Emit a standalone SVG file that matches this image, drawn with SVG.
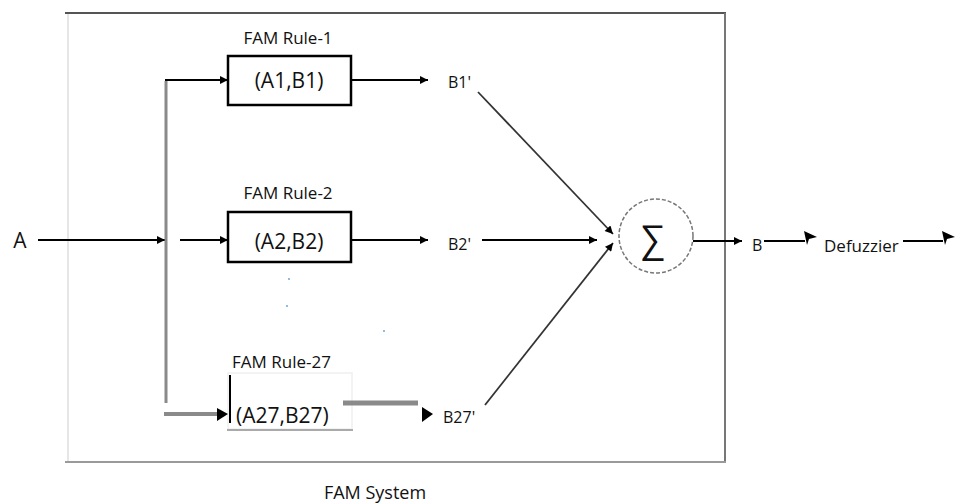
<svg xmlns="http://www.w3.org/2000/svg" width="965" height="504" viewBox="0 0 965 504">
<defs>
<marker id="arr" markerUnits="userSpaceOnUse" markerWidth="9" markerHeight="8" viewBox="0 0 10 10" refX="10" refY="5" orient="auto">
<path d="M0,0 L10,5 L0,10 z" fill="#000"/>
</marker>
</defs>
<style>
text{font-family:"Open Sans","Liberation Sans",sans-serif;fill:#111}
.lbl{font-size:17px}
.box{fill:none;stroke:#000;stroke-width:2.5}
.ln{stroke:#000;stroke-width:2;fill:none}
.diag{stroke:#333;stroke-width:1.8;fill:none}
.gray{stroke:#8a8a8a;fill:none}
</style>
<rect width="965" height="504" fill="#fff"/>

<g id="frame">
<line x1="68" y1="13" x2="68" y2="462" stroke="#e6e6e6" stroke-width="2"/>
<line x1="65" y1="13" x2="726" y2="13" stroke="#555" stroke-width="2"/>
<line x1="725" y1="13" x2="725" y2="463" stroke="#777" stroke-width="2"/>
<line x1="65" y1="462" x2="726" y2="462" stroke="#9a9a9a" stroke-width="2"/>
<text x="375" y="499" font-size="18" text-anchor="middle">FAM System</text>
</g>

<g id="input">
<text x="20" y="248" font-size="21" text-anchor="middle">A</text>
</g>

<g id="rule1">
<text class="lbl" x="288" y="44" text-anchor="middle">FAM Rule-1</text>
<rect class="box" x="228" y="56" width="123" height="49"/>
<text x="289" y="88" font-size="21" text-anchor="middle">(A1,B1)</text>
</g>

<g id="rule2">
<text class="lbl" x="288" y="199" text-anchor="middle">FAM Rule-2</text>
<rect class="box" x="228" y="212" width="123" height="50"/>
<text x="289" y="249" font-size="21" text-anchor="middle">(A2,B2)</text>
</g>

<g id="dots" fill="#5b9bd5">
<circle cx="289" cy="279" r="0.9"/>
<circle cx="287" cy="306" r="0.9"/>
<circle cx="384" cy="331" r="0.9"/>
</g>

<g id="rule27">
<text class="lbl" x="232" y="368">FAM Rule-27</text>
<rect x="228" y="373" width="124" height="56" fill="none" stroke="#efefef" stroke-width="1.5"/>
<line x1="227" y1="430" x2="353" y2="430" stroke="#aaa" stroke-width="2"/>
<line x1="230" y1="375" x2="230" y2="423" stroke="#000" stroke-width="2"/>
<text x="236" y="423" font-size="21">(A27,B27)</text>
</g>

<g id="b1out"><text x="448" y="88" font-size="16">B1'</text></g>
<g id="b2out"><text x="448" y="250" font-size="16">B2'</text></g>
<g id="b27out"><text x="443" y="423" font-size="16">B27'</text></g>

<g id="sum">
<circle cx="656" cy="236" r="37" fill="none" stroke="#777" stroke-width="1.5" stroke-dasharray="4,2"/>
<text x="653" y="252" font-size="37" text-anchor="middle" font-family="DejaVu Sans, sans-serif">∑</text>
</g>

<g id="bout"><text x="752" y="251" font-size="16">B</text></g>
<g id="defuzzier"><text x="824" y="252" font-size="17">Defuzzier</text></g>

<g id="connectors">
<line class="ln" x1="38" y1="240" x2="165" y2="240" marker-end="url(#arr)"/>
<line class="gray" x1="166" y1="81" x2="166" y2="403" stroke-width="3" stroke="#9a9a9a"/>
<line class="ln" x1="165" y1="80" x2="228" y2="80" marker-end="url(#arr)"/>
<line class="ln" x1="180" y1="240" x2="228" y2="240" marker-end="url(#arr)"/>
<line class="gray" x1="164" y1="414" x2="220" y2="414" stroke-width="4"/>
<path d="M217,408 L228,414 L217,421 z" fill="#000"/>
<line class="ln" x1="351" y1="80" x2="428" y2="80" marker-end="url(#arr)"/>
<line class="ln" x1="351" y1="240" x2="428" y2="240" marker-end="url(#arr)"/>
<line class="gray" x1="343" y1="403" x2="418" y2="403" stroke-width="5"/>
<path d="M422,407 L433,414 L422,422 z" fill="#000"/>
<line class="ln" x1="482" y1="240" x2="597" y2="240" marker-end="url(#arr)"/>
<line class="diag" x1="478" y1="92" x2="613" y2="234" marker-end="url(#arr)"/>
<line class="diag" x1="485" y1="405" x2="613" y2="243" marker-end="url(#arr)"/>
<line class="ln" x1="693" y1="241" x2="742" y2="241" marker-end="url(#arr)"/>
<line class="ln" x1="764" y1="241" x2="805" y2="241"/>
<path d="M804,231 L817,237 L809,239 L807,245 z" fill="#000"/>
<line class="ln" x1="903" y1="241" x2="943" y2="241"/>
<path d="M942,231 L955,237 L947,239 L945,245 z" fill="#000"/>
</g>
</svg>
